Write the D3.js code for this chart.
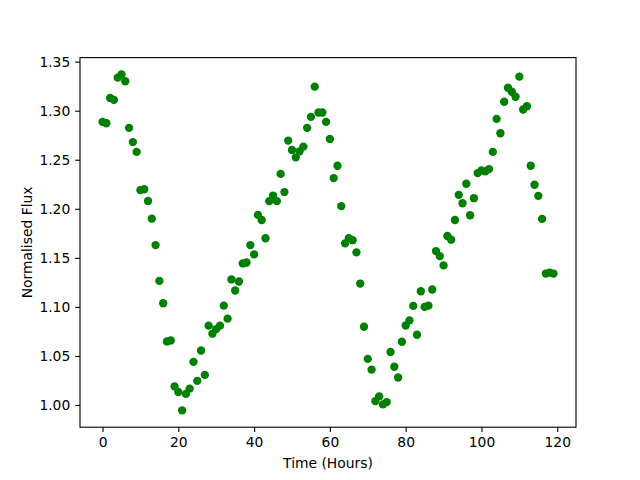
<!DOCTYPE html>
<html>
<head>
<meta charset="utf-8">
<script src="https://cdn.jsdelivr.net/npm/d3@7"></script>
<style>
  html, body { margin: 0; padding: 0; background: #fff; }
  svg { display: block; }
  text { font-family: "DejaVu Sans", sans-serif; fill: #000; }
</style>
</head>
<body>
<svg id="chart" width="640" height="480"></svg>
<script>
// Time in hours
const hours = d3.range(0, 120);
// Normalised flux values
const flux = [
  1.2886, 1.2872, 1.3130, 1.3110, 1.3337, 1.3370, 1.3300, 1.2825, 1.2680, 1.2580,
  1.2190, 1.2200, 1.2080, 1.1900, 1.1630, 1.1265, 1.1037, 1.0648, 1.0658, 1.0190,
  1.0133, 0.9945, 1.0113, 1.0167, 1.0440, 1.0246, 1.0556, 1.0307, 1.0809, 1.0727,
  1.0774, 1.0809, 1.1013, 1.0880, 1.1280, 1.1167, 1.1259, 1.1443, 1.1453, 1.1630,
  1.1535, 1.1938, 1.1886, 1.1700, 1.2078, 1.2135, 1.2078, 1.2356, 1.2170, 1.2695,
  1.2600, 1.2524, 1.2586, 1.2634, 1.2825, 1.2937, 1.3245, 1.2982, 1.2982, 1.2886,
  1.2712, 1.2313, 1.2439, 1.2027, 1.1648, 1.1700, 1.1680, 1.1556, 1.1238, 1.0798,
  1.0470, 1.0361, 1.0040, 1.0088, 1.0006, 1.0030, 1.0540, 1.0390, 1.0280, 1.0645,
  1.0810, 1.0863, 1.1010, 1.0716, 1.1160, 1.1000, 1.1013, 1.1177, 1.1569, 1.1518,
  1.1423, 1.1723, 1.1685, 1.1886, 1.2142, 1.2057, 1.2255, 1.1934, 1.2108, 1.2364,
  1.2391, 1.2381, 1.2405, 1.2580, 1.2917, 1.2770, 1.3091, 1.3234, 1.3193, 1.3142,
  1.3347, 1.3012, 1.3046, 1.2439, 1.2245, 1.2132, 1.1897, 1.1340, 1.1350, 1.1340
];
const xTicks = [0, 20, 40, 60, 80, 100, 120];
const yTicks = [1.00, 1.05, 1.10, 1.15, 1.20, 1.25, 1.30, 1.35];
const xLabel = "Time (Hours)";
const yLabel = "Normalised Flux";

const svg = d3.select("#chart");
const L = 80, R = 576, T = 57.6, B = 427.2;
const px = 100 / 72;
const fontSize = 10 * px;
const tickLen = 3.5 * px, tickPad = 3.5 * px;

// matplotlib-style 5% margins
const xMin = d3.min(hours), xMax = d3.max(hours);
const yMin = d3.min(flux), yMax = d3.max(flux);
const xm = (xMax - xMin) * 0.05, ym = (yMax - yMin) * 0.05;
const x = d3.scaleLinear().domain([xMin - xm, xMax + xm]).range([L, R]);
const y = d3.scaleLinear().domain([yMin - ym, yMax + ym]).range([B, T]);

const data = hours.map((h, i) => ({h, f: flux[i]}));

svg.append("g")
  .selectAll("circle")
  .data(data)
  .join("circle")
  .attr("cx", d => x(d.h))
  .attr("cy", d => y(d.f))
  .attr("r", 4.17)
  .attr("fill", "#008000");

// Frame
svg.append("rect")
  .attr("x", L).attr("y", T)
  .attr("width", R - L).attr("height", B - T)
  .attr("fill", "none").attr("stroke", "#000").attr("stroke-width", 0.8 * px);

const xAxis = svg.append("g")
  .attr("transform", `translate(0,${B})`)
  .call(d3.axisBottom(x).tickValues(xTicks).tickFormat(d3.format("d"))
    .tickSizeInner(tickLen).tickSizeOuter(0).tickPadding(tickPad));
const yAxis = svg.append("g")
  .attr("transform", `translate(${L},0)`)
  .call(d3.axisLeft(y).tickValues(yTicks).tickFormat(d3.format(".2f"))
    .tickSizeInner(tickLen).tickSizeOuter(0).tickPadding(tickPad));

[xAxis, yAxis].forEach(g => {
  g.select(".domain").remove();
  g.selectAll(".tick line").attr("stroke", "#000").attr("stroke-width", 0.8 * px);
  g.selectAll(".tick text")
    .attr("font-family", "DejaVu Sans, sans-serif")
    .attr("font-size", fontSize)
    .attr("fill", "#000");
});

svg.append("text")
  .attr("x", (L + R) / 2)
  .attr("y", 468)
  .attr("text-anchor", "middle")
  .attr("font-size", fontSize)
  .text(xLabel);

svg.append("text")
  .attr("transform", `translate(32,${(T + B) / 2}) rotate(-90)`)
  .attr("text-anchor", "middle")
  .attr("font-size", fontSize)
  .text(yLabel);
</script>
</body>
</html>
